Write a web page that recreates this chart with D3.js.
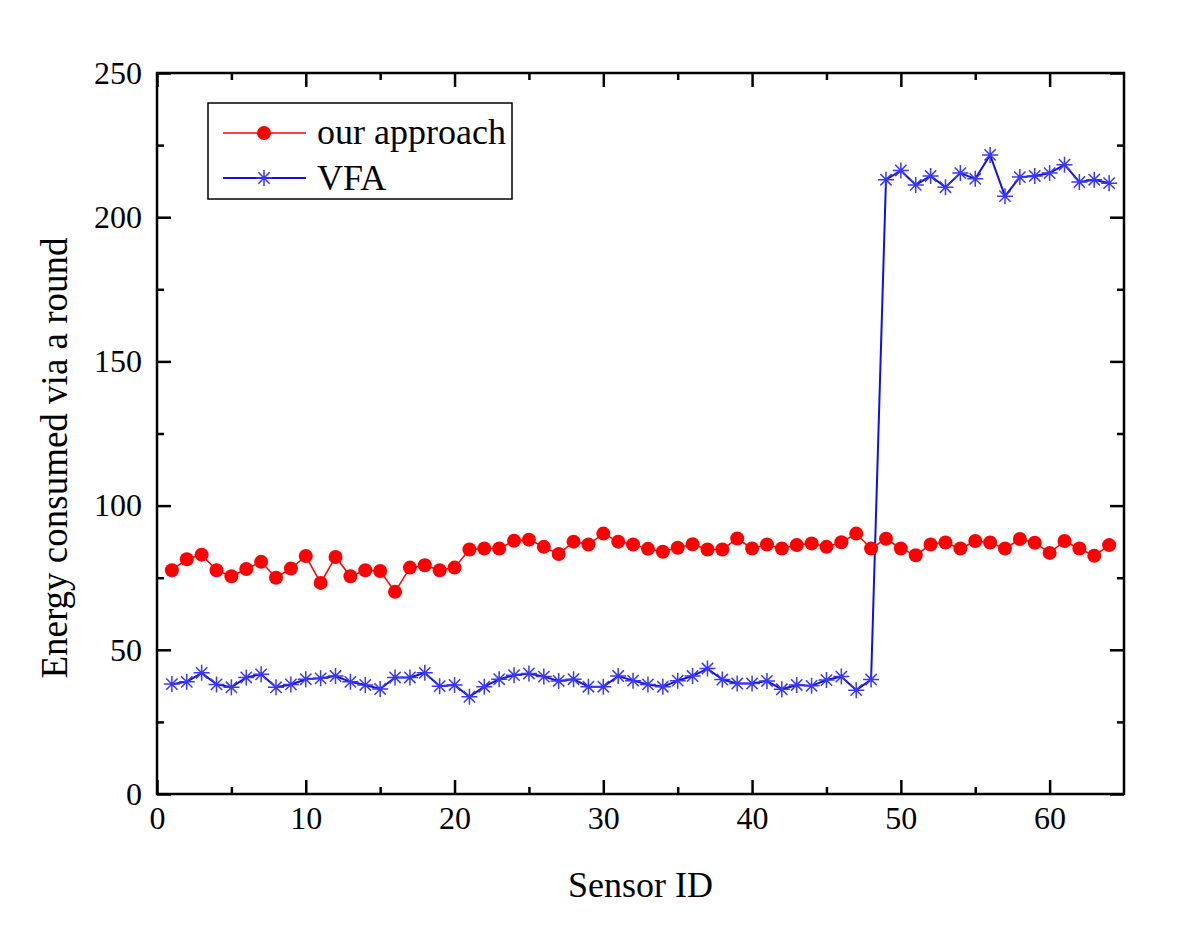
<!DOCTYPE html>
<html>
<head>
<meta charset="utf-8">
<script src="https://cdn.jsdelivr.net/npm/d3@7"></script>
<style>
  body { margin: 0; background: #fff; }
  svg text { font-family: "Liberation Serif", "Times New Roman", serif; fill: #000; }
</style>
</head>
<body>
<script>
// Sensor IDs 1..64
var sensorIds = [];
for (var s = 1; s <= 64; s++) sensorIds.push(s);

// Energy per round
var ourApproach = [77.6, 81.4, 83.0, 77.6, 75.5, 78.0, 80.5, 75.0, 78.2, 82.5,
  73.2, 82.2, 75.5, 77.6, 77.3, 70.1, 78.5, 79.3, 77.6, 78.5,
  84.8, 85.1, 85.1, 87.8, 88.2, 85.7, 83.2, 87.5, 86.5, 90.3,
  87.5, 86.5, 85.0, 84.0, 85.4, 86.6, 84.8, 84.8, 88.6, 85.1,
  86.5, 85.1, 86.3, 86.9, 85.7, 87.3, 90.3, 85.1, 88.5, 85.1,
  82.8, 86.5, 87.2, 85.1, 87.7, 87.2, 85.1, 88.4, 87.1, 83.6,
  87.7, 85.1, 82.6, 86.3];

var vfa = [38.1, 38.9, 42.0, 38.0, 37.0, 40.4, 41.5, 37.0, 38.0, 39.8,
  40.1, 40.9, 38.9, 37.8, 36.4, 40.4, 40.4, 42.0, 37.4, 37.8,
  33.7, 37.2, 39.8, 41.2, 41.8, 40.7, 39.2, 39.8, 37.2, 37.2,
  40.9, 39.3, 38.0, 37.2, 39.3, 40.9, 43.5, 39.7, 38.3, 38.3,
  39.2, 36.3, 37.8, 37.5, 39.5, 40.7, 36.0, 39.7, 213.0, 216.2,
  211.2, 214.3, 210.4, 215.3, 213.3, 221.6, 207.3, 213.9, 214.3, 215.3,
  218.2, 212.2, 213.0, 211.8];

var xTicks = [0, 10, 20, 30, 40, 50, 60];
var xMinor = [5, 15, 25, 35, 45, 55];
var yTicks = [0, 50, 100, 150, 200, 250];
var yMinor = [25, 75, 125, 175, 225];

var svgWidth = 1200;
var svgHeight = 937;
var margin = { top: 73, right: 76, bottom: 143, left: 157 };
var chartWidth = svgWidth - margin.left - margin.right;
var chartHeight = svgHeight - margin.top - margin.bottom;

var svg = d3.select("body").append("svg")
  .attr("width", svgWidth)
  .attr("height", svgHeight);

var chartGroup = svg.append("g")
  .attr("transform", `translate(${margin.left}, ${margin.top})`);

var xScale = d3.scaleLinear().domain([0, 65]).range([0, chartWidth]);
var yScale = d3.scaleLinear().domain([0, 250]).range([chartHeight, 0]);

// axes with inward ticks
function styleAxis(g) {
  g.select(".domain").remove();
  g.selectAll(".tick line").attr("stroke", "#000").attr("stroke-width", 2.5);
  g.selectAll("text").style("font-size", "32px");
}

chartGroup.append("g")
  .attr("transform", `translate(0, ${chartHeight})`)
  .call(d3.axisBottom(xScale).tickValues(xTicks).tickSize(-14).tickPadding(12).tickFormat(d3.format("d")))
  .call(styleAxis);
chartGroup.append("g")
  .attr("transform", `translate(0, ${chartHeight})`)
  .call(d3.axisBottom(xScale).tickValues(xMinor).tickSize(-7).tickFormat(""))
  .call(styleAxis);
chartGroup.append("g")
  .call(d3.axisTop(xScale).tickValues(xTicks).tickSize(-14).tickFormat(""))
  .call(styleAxis);
chartGroup.append("g")
  .call(d3.axisTop(xScale).tickValues(xMinor).tickSize(-7).tickFormat(""))
  .call(styleAxis);

chartGroup.append("g")
  .call(d3.axisLeft(yScale).tickValues(yTicks).tickSize(-14).tickPadding(15).tickFormat(d3.format("d")))
  .call(styleAxis);
chartGroup.append("g")
  .call(d3.axisLeft(yScale).tickValues(yMinor).tickSize(-7).tickFormat(""))
  .call(styleAxis);
chartGroup.append("g")
  .attr("transform", `translate(${chartWidth}, 0)`)
  .call(d3.axisRight(yScale).tickValues(yTicks).tickSize(-14).tickFormat(""))
  .call(styleAxis);
chartGroup.append("g")
  .attr("transform", `translate(${chartWidth}, 0)`)
  .call(d3.axisRight(yScale).tickValues(yMinor).tickSize(-7).tickFormat(""))
  .call(styleAxis);

// frame
chartGroup.append("rect")
  .attr("width", chartWidth)
  .attr("height", chartHeight)
  .attr("fill", "none")
  .attr("stroke", "#000")
  .attr("stroke-width", 2.5);

var line = d3.line()
  .x((d, i) => xScale(sensorIds[i]))
  .y(d => yScale(d));

// VFA series
chartGroup.append("path")
  .datum(vfa)
  .attr("fill", "none")
  .attr("stroke", "#1010e0")
  .attr("stroke-width", 2)
  .attr("d", line);

function starPath(r) {
  var p = "";
  [0, 45, 90, 135].forEach(function (a) {
    var t = a * Math.PI / 180;
    var dx = r * Math.cos(t), dy = r * Math.sin(t);
    p += `M${-dx},${-dy}L${dx},${dy}`;
  });
  return p;
}

chartGroup.selectAll(".vfa-pt")
  .data(vfa)
  .enter()
  .append("path")
  .classed("vfa-pt", true)
  .attr("transform", (d, i) => `translate(${xScale(sensorIds[i])}, ${yScale(d)})`)
  .attr("d", starPath(8))
  .attr("stroke", "#3838f5")
  .attr("stroke-width", 1.5)
  .attr("fill", "none");

// our approach series
chartGroup.append("path")
  .datum(ourApproach)
  .attr("fill", "none")
  .attr("stroke", "#f00")
  .attr("stroke-width", 1.5)
  .attr("d", line);

chartGroup.selectAll(".our-pt")
  .data(ourApproach)
  .enter()
  .append("circle")
  .classed("our-pt", true)
  .attr("cx", (d, i) => xScale(sensorIds[i]))
  .attr("cy", d => yScale(d))
  .attr("r", 7)
  .attr("fill", "#f00");

// axis titles
svg.append("text")
  .attr("x", margin.left + chartWidth / 2)
  .attr("y", 897)
  .attr("text-anchor", "middle")
  .style("font-size", "36px")
  .text("Sensor ID");

svg.append("text")
  .attr("transform", "translate(67, 458) rotate(-90)")
  .attr("text-anchor", "middle")
  .style("font-size", "37px")
  .text("Energy consumed via a round");

// legend
var legend = svg.append("g");
legend.append("rect")
  .attr("x", 208).attr("y", 103)
  .attr("width", 304).attr("height", 96)
  .attr("fill", "#fff")
  .attr("stroke", "#000")
  .attr("stroke-width", 1.5);

legend.append("line")
  .attr("x1", 223).attr("x2", 306).attr("y1", 133).attr("y2", 133)
  .attr("stroke", "#f00").attr("stroke-width", 1.5);
legend.append("circle")
  .attr("cx", 264).attr("cy", 133).attr("r", 7).attr("fill", "#f00");
legend.append("text")
  .attr("x", 317).attr("y", 144)
  .style("font-size", "36px")
  .text("our approach");

legend.append("line")
  .attr("x1", 223).attr("x2", 306).attr("y1", 178).attr("y2", 178)
  .attr("stroke", "#1010e0").attr("stroke-width", 2);
legend.append("path")
  .attr("transform", "translate(264, 178)")
  .attr("d", starPath(8))
  .attr("stroke", "#3838f5").attr("stroke-width", 1.5).attr("fill", "none");
legend.append("text")
  .attr("x", 317).attr("y", 190)
  .style("font-size", "36px")
  .text("VFA");
</script>
</body>
</html>
